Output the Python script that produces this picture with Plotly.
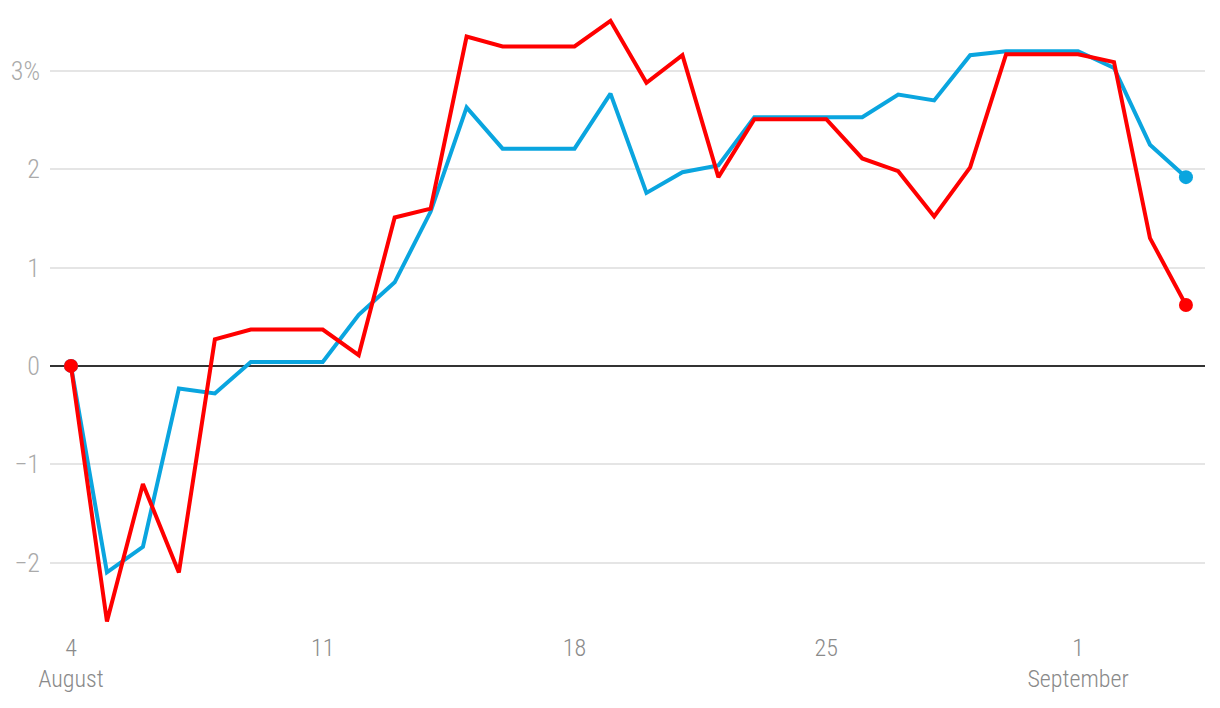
import plotly.graph_objects as go

dates = ["2025-08-%02d" % d for d in range(4, 32)] + ["2025-09-01", "2025-09-02", "2025-09-03", "2025-09-04"]

blue_values = [0, -2.10, -1.84, -0.23, -0.28, 0.04, 0.04, 0.04, 0.52, 0.85,
               1.57, 2.63, 2.21, 2.21, 2.21, 2.77, 1.76, 1.97, 2.04, 2.53,
               2.53, 2.53, 2.53, 2.76, 2.70, 3.16, 3.20, 3.20, 3.20, 3.03,
               2.25, 1.92]
red_values = [0, -2.60, -1.20, -2.10, 0.27, 0.37, 0.37, 0.37, 0.11, 1.51,
              1.60, 3.35, 3.25, 3.25, 3.25, 3.51, 2.88, 3.16, 1.92, 2.51,
              2.51, 2.51, 2.11, 1.98, 1.52, 2.02, 3.17, 3.17, 3.17, 3.09,
              1.30, 0.62]

x_tickvals = ["2025-08-04", "2025-08-11", "2025-08-18", "2025-08-25", "2025-09-01"]
x_ticktext = ["4<br>August", "11", "18", "25", "1<br>September"]
y_tickvals = [-2, -1, 0, 1, 2, 3]
y_ticktext = ["\u22122", "\u22121", "0", "1", "2", "3%"]

BLUE = "#0aa5df"
RED = "#ff0000"
FONT = "'Roboto Condensed', 'Liberation Sans Narrow', 'DejaVu Sans Condensed', 'Noto Sans', sans-serif"

fig = go.Figure()
for vals, col in [(blue_values, BLUE), (red_values, RED)]:
    n = len(vals)
    fig.add_trace(go.Scatter(
        x=dates, y=vals, mode="lines+markers",
        line=dict(color=col, width=4),
        marker=dict(size=[14] + [0] * (n - 2) + [14], color=col, opacity=1,
                    line=dict(width=0)),
        showlegend=False, hoverinfo="x+y",
    ))

fig.update_layout(
    width=1212, height=700,
    margin=dict(l=42, r=15, t=2, b=78),
    paper_bgcolor="white", plot_bgcolor="white",
    font=dict(family=FONT),
)
fig.update_xaxes(
    type="date",
    range=["2025-08-03 10:00", "2025-09-04 12:43"],
    tickvals=x_tickvals, ticktext=x_ticktext,
    showgrid=False, zeroline=False, showline=False,
    ticks="", ticklabelstandoff=1,
    tickfont=dict(family=FONT, size=24, color="#8a8a8a", weight=300),
)
fig.update_yaxes(
    range=[-2.686, 3.62],
    tickvals=y_tickvals, ticktext=y_ticktext,
    showgrid=True, gridcolor="#e5e5e5", gridwidth=1.5,
    zeroline=True, zerolinecolor="#333333", zerolinewidth=1.5,
    showline=False, ticks="", ticklabelstandoff=9,
    tickfont=dict(family=FONT, size=26, color="#aaaaaa", weight=300),
)

fig.write_html("out.html")
